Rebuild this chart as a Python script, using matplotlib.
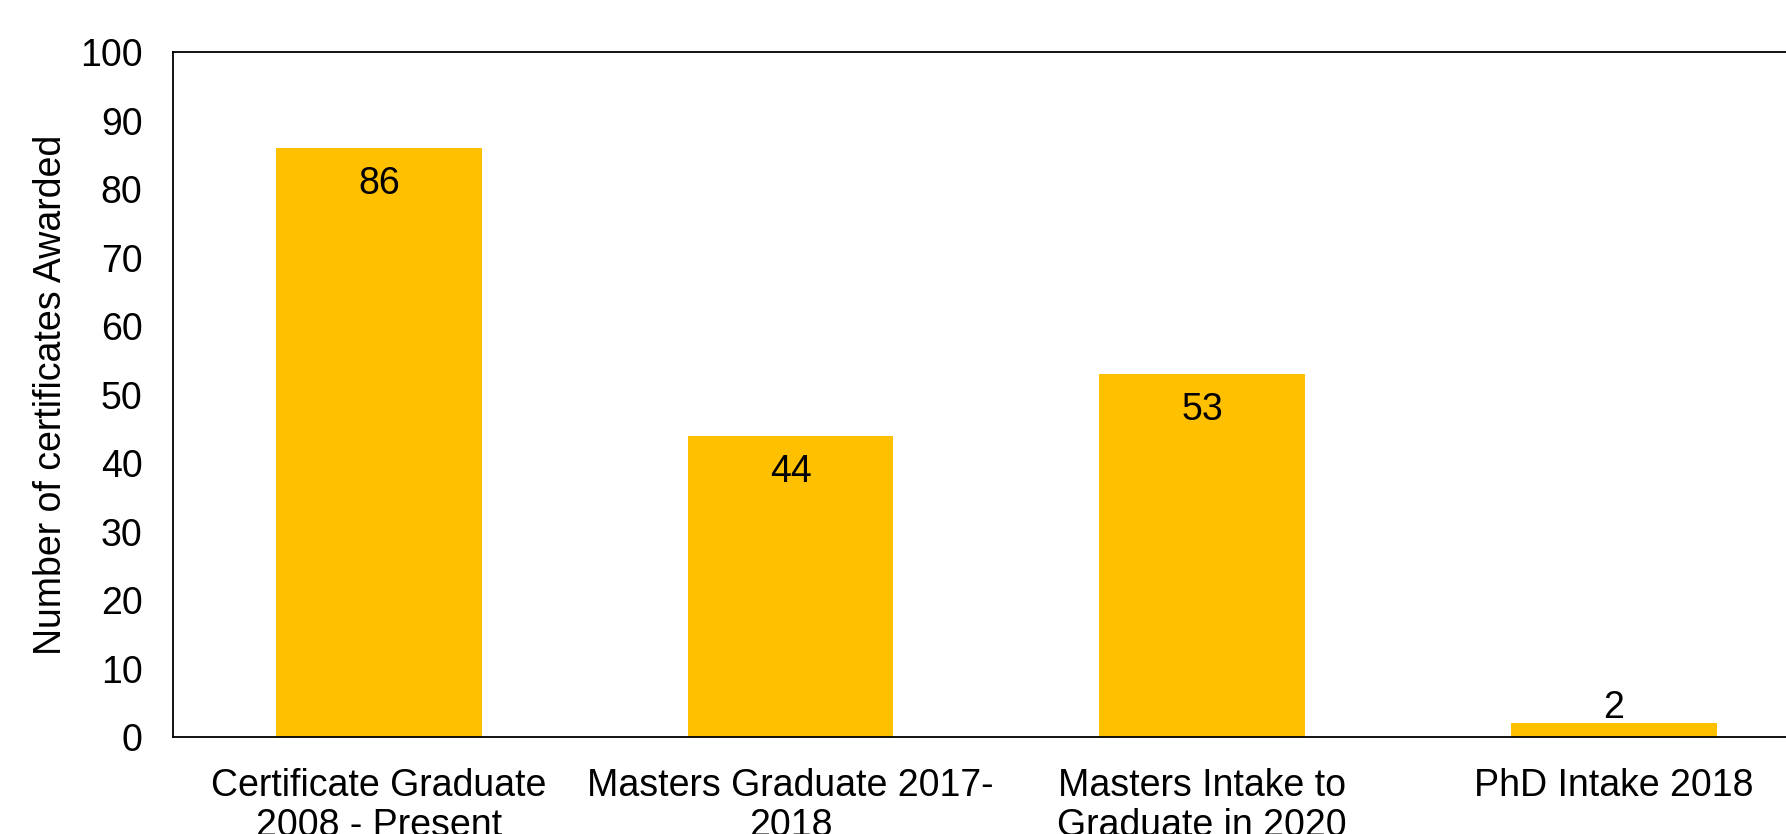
import matplotlib
matplotlib.use('Agg')
import matplotlib.pyplot as plt

categories = ['Certificate Graduate\n2008 - Present', 'Masters Graduate 2017-\n2018',
              'Masters Intake to\nGraduate in 2020', 'PhD Intake 2018']
values = [86, 44, 53, 2]
y_ticks = [0, 10, 20, 30, 40, 50, 60, 70, 80, 90, 100]

plt.rcParams['font.family'] = ['Liberation Sans', 'DejaVu Sans']

fig = plt.figure(figsize=(17.86, 8.34), dpi=100)
ax = fig.add_axes([0.0969, 0.1163, 0.922, 0.8213])

x = list(range(len(values)))
bars = ax.bar(x, values, width=0.5, color='#FFC000', zorder=2)

for xi, v in zip(x, values):
    if v >= 10:
        ax.annotate(str(v), (xi, v), xytext=(0, -26), textcoords='offset points',
                    ha='center', va='center', fontsize=27, color='black')
    else:
        ax.annotate(str(v), (xi, v), xytext=(0, 11), textcoords='offset points',
                    ha='center', va='center', fontsize=27, color='black')

ax.set_xlim(-0.5, 3.5)
ax.set_ylim(0, 100)
ax.set_yticks(y_ticks)
ax.set_xticks(x)
ax.set_xticklabels(categories, fontsize=27, linespacing=1.15)
ax.tick_params(axis='y', length=0, pad=22, labelsize=27)
ax.tick_params(axis='x', length=0, pad=22)
ax.set_ylabel('Number of certificates Awarded', fontsize=27, labelpad=8)

for side in ['top', 'left', 'bottom']:
    ax.spines[side].set_color('black')
    ax.spines[side].set_linewidth(1.3)
ax.spines['right'].set_visible(False)

fig.savefig('out.png', dpi=100)
plt.close(fig)
